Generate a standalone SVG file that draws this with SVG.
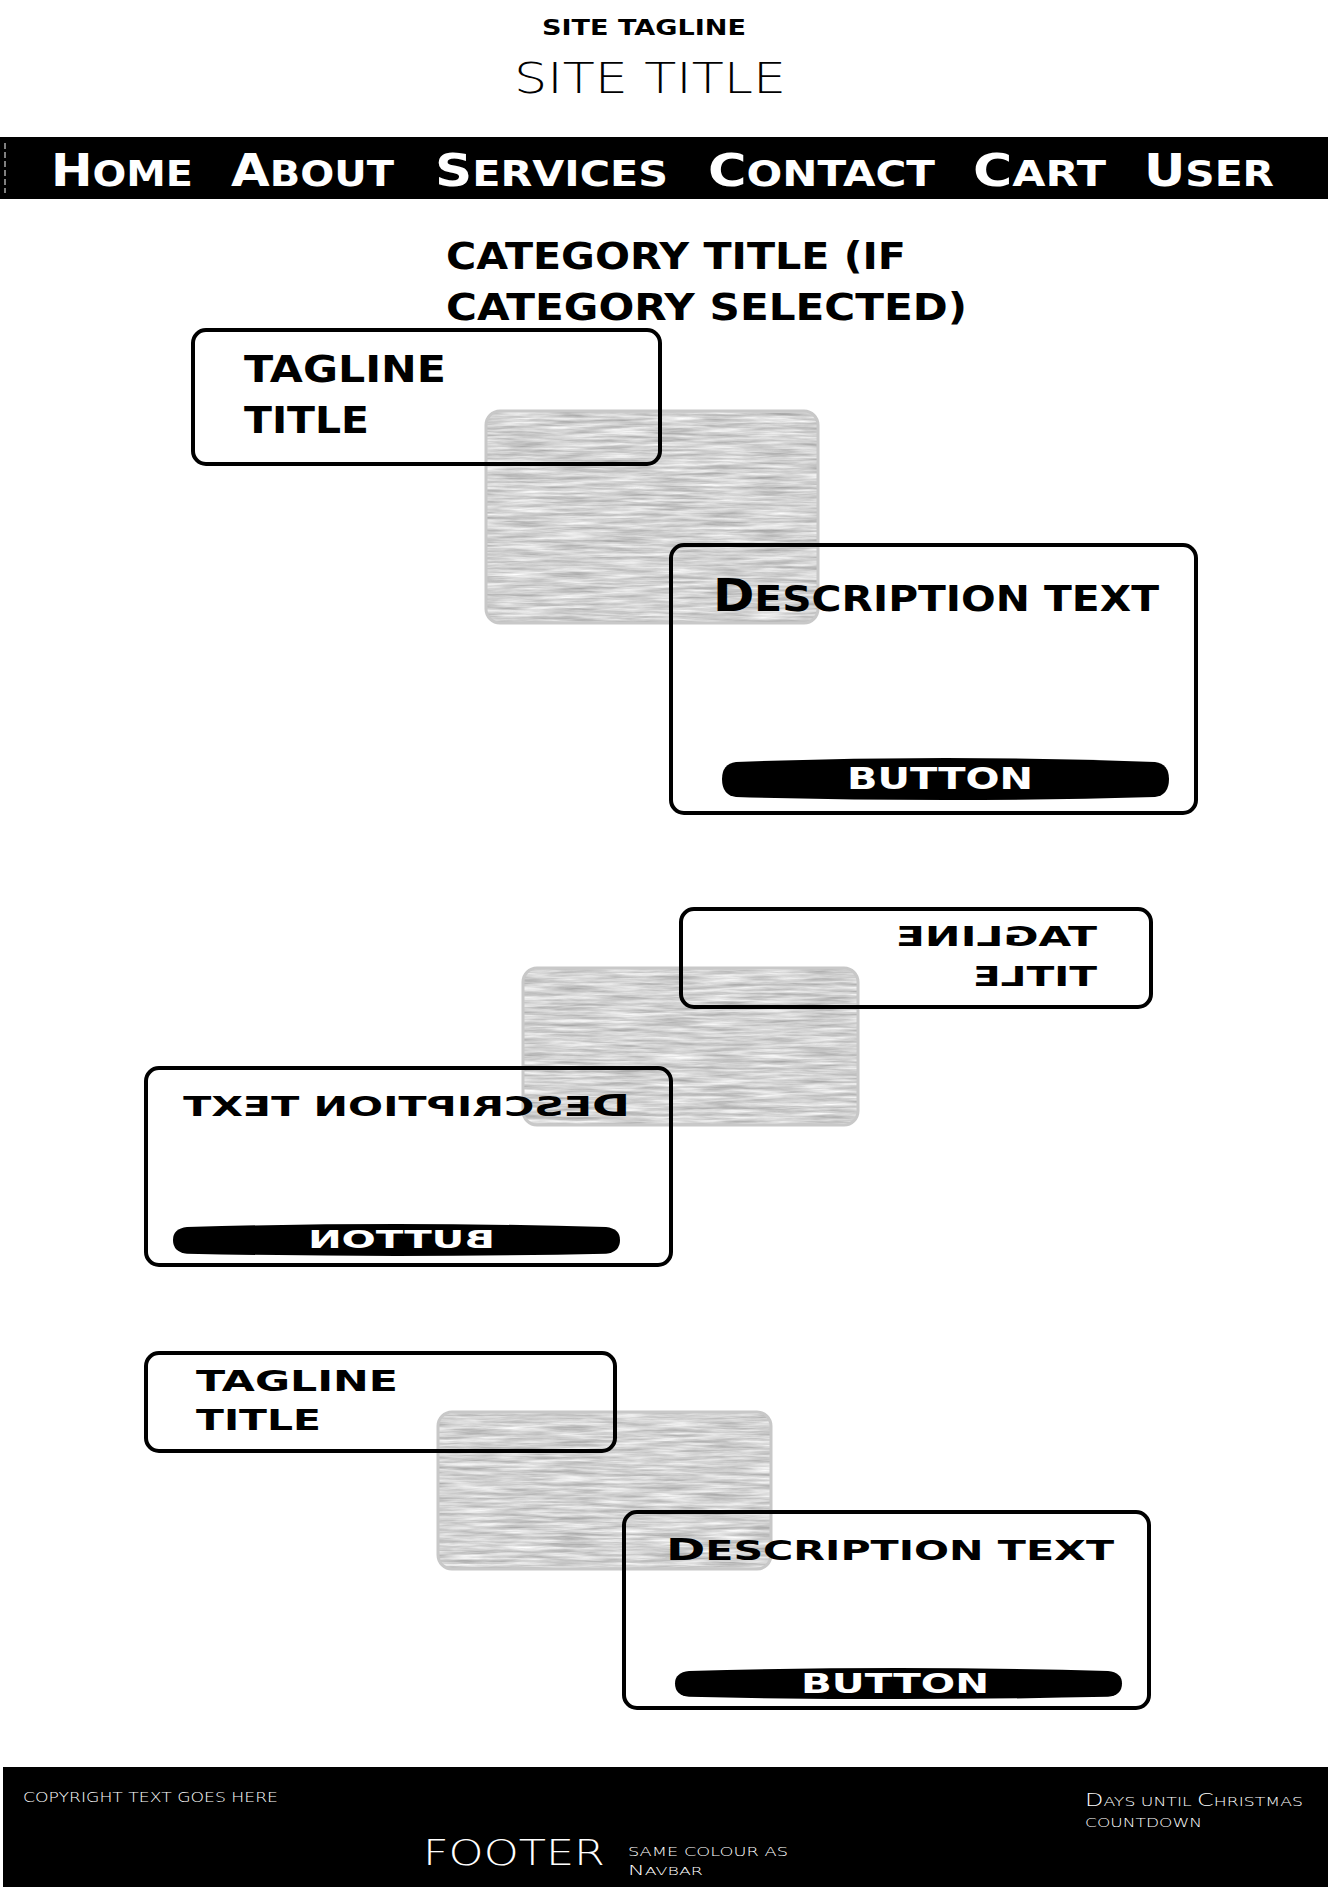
<svg xmlns="http://www.w3.org/2000/svg" width="1328" height="1887" viewBox="0 0 1328 1887">
<style>
.bold{font-family:"DejaVu Sans","Liberation Sans",sans-serif;font-weight:bold;}
.thin{font-family:"DejaVu Sans","Liberation Sans",sans-serif;font-weight:300;}
.blk{fill:#000;}
.wht{fill:#fff;}
.box{fill:none;stroke:#000;stroke-width:4;}
.imgborder{fill:none;stroke:#c8c8c8;stroke-width:3;}
</style>
<defs>
<filter id="streaks" x="0" y="0" width="1" height="1" color-interpolation-filters="sRGB">
<feTurbulence type="fractalNoise" baseFrequency="0.02 0.3" numOctaves="4" seed="7" result="n"/>
<feColorMatrix in="n" type="matrix" values="0.45 0 0 0 0.6  0.45 0 0 0 0.6  0.45 0 0 0 0.6  0 0 0 0 1" result="g"/>
<feComposite in="g" in2="SourceGraphic" operator="in"/>
</filter>
<path id="btn" d="M14 4 Q223.5 -4 433 4 Q447 6 447 21 Q447 37 433 39 Q223.5 45 14 39 Q0 37 0 21 Q0 6 14 4 Z"/>
</defs>
<rect width="1328" height="1887" fill="#fff"/>

<g id="header">
<text class="bold blk" x="542" y="35" font-size="22" textLength="204" lengthAdjust="spacingAndGlyphs">SITE TAGLINE</text>
<text class="thin blk" x="514" y="93" font-size="43" textLength="272" lengthAdjust="spacingAndGlyphs">SITE TITLE</text>
</g>

<g id="navbar">
<rect x="0" y="137" width="1328" height="62" fill="#000"/>
<line x1="5" y1="143" x2="5" y2="193" stroke="#fff" stroke-width="1" stroke-dasharray="6 3"/>
<text class="bold wht" y="186" font-size="45"><tspan x="51" textLength="142" lengthAdjust="spacingAndGlyphs">H<tspan font-size="36">OME</tspan></tspan></text>
<text class="bold wht" y="186" font-size="45"><tspan x="231" textLength="163" lengthAdjust="spacingAndGlyphs">A<tspan font-size="36">BOUT</tspan></tspan></text>
<text class="bold wht" y="186" font-size="45"><tspan x="435" textLength="233" lengthAdjust="spacingAndGlyphs">S<tspan font-size="36">ERVICES</tspan></tspan></text>
<text class="bold wht" y="186" font-size="45"><tspan x="708" textLength="227" lengthAdjust="spacingAndGlyphs">C<tspan font-size="36">ONTACT</tspan></tspan></text>
<text class="bold wht" y="186" font-size="45"><tspan x="973" textLength="133" lengthAdjust="spacingAndGlyphs">C<tspan font-size="36">ART</tspan></tspan></text>
<text class="bold wht" y="186" font-size="45"><tspan x="1144" textLength="130" lengthAdjust="spacingAndGlyphs">U<tspan font-size="36">SER</tspan></tspan></text>
</g>

<g id="category-title">
<text class="bold blk" x="446" y="269" font-size="37" textLength="460" lengthAdjust="spacingAndGlyphs">CATEGORY TITLE (IF</text>
<text class="bold blk" x="446" y="320" font-size="37" textLength="521" lengthAdjust="spacingAndGlyphs">CATEGORY SELECTED)</text>
</g>

<g id="card1">
<g id="card1-image">
<rect x="486" y="411" width="332" height="212" rx="14" fill="#ccc" filter="url(#streaks)"/>
<rect class="imgborder" x="486" y="411" width="332" height="212" rx="14"/>
</g>
<g id="card1-tagline">
<rect class="box" x="193" y="330" width="467" height="134" rx="13"/>
<text class="bold blk" x="244" y="382" font-size="37" textLength="202" lengthAdjust="spacingAndGlyphs">TAGLINE</text>
<text class="bold blk" x="244" y="433" font-size="37" textLength="125" lengthAdjust="spacingAndGlyphs">TITLE</text>
</g>
<g id="card1-description">
<rect class="box" x="671" y="545" width="525" height="268" rx="13"/>
<text class="bold blk" y="611" font-size="44"><tspan x="713" textLength="446" lengthAdjust="spacingAndGlyphs">D<tspan font-size="36">ESCRIPTION TEXT</tspan></tspan></text>
<use href="#btn" transform="translate(722,758)"/>
<text class="bold wht" x="847" y="789" font-size="30" textLength="186" lengthAdjust="spacingAndGlyphs">BUTTON</text>
</g>
</g>

<g id="card2">
<g id="card2-image">
<rect x="523" y="968" width="335" height="157" rx="14" fill="#ccc" filter="url(#streaks)"/>
<rect class="imgborder" x="523" y="968" width="335" height="157" rx="14"/>
</g>
<g id="card2-tagline">
<rect class="box" x="681" y="909" width="470" height="98" rx="13"/>
<text class="bold blk" transform="matrix(-1 0 0 1 1993 0)" x="896" y="946" font-size="27" textLength="201" lengthAdjust="spacingAndGlyphs">TAGLINE</text>
<text class="bold blk" transform="matrix(-1 0 0 1 2070 0)" x="973" y="986" font-size="27" textLength="124" lengthAdjust="spacingAndGlyphs">TITLE</text>
</g>
<g id="card2-description">
<rect class="box" x="146" y="1068" width="525" height="197" rx="13"/>
<text class="bold blk" transform="matrix(-1 0 0 1 813 0)" y="1116" font-size="30"><tspan x="183" textLength="447" lengthAdjust="spacingAndGlyphs">D<tspan font-size="27">ESCRIPTION TEXT</tspan></tspan></text>
<use href="#btn" transform="translate(173,1224) scale(1,0.76)"/>
<text class="bold wht" transform="matrix(-1 0 0 1 803 0)" x="308" y="1248" font-size="25" textLength="187" lengthAdjust="spacingAndGlyphs">BUTTON</text>
</g>
</g>

<g id="card3">
<g id="card3-image">
<rect x="438" y="1412" width="333" height="157" rx="14" fill="#ccc" filter="url(#streaks)"/>
<rect class="imgborder" x="438" y="1412" width="333" height="157" rx="14"/>
</g>
<g id="card3-tagline">
<rect class="box" x="146" y="1353" width="469" height="98" rx="13"/>
<text class="bold blk" x="196" y="1391" font-size="29" textLength="202" lengthAdjust="spacingAndGlyphs">TAGLINE</text>
<text class="bold blk" x="196" y="1430" font-size="29" textLength="125" lengthAdjust="spacingAndGlyphs">TITLE</text>
</g>
<g id="card3-description">
<rect class="box" x="624" y="1512" width="525" height="196" rx="13"/>
<text class="bold blk" y="1560" font-size="31"><tspan x="666" textLength="448" lengthAdjust="spacingAndGlyphs">D<tspan font-size="27">ESCRIPTION TEXT</tspan></tspan></text>
<use href="#btn" transform="translate(675,1668) scale(1,0.74)"/>
<text class="bold wht" x="801" y="1693" font-size="27" textLength="188" lengthAdjust="spacingAndGlyphs">BUTTON</text>
</g>
</g>

<g id="footer">
<rect x="3" y="1767" width="1325" height="120" fill="#000"/>
<text class="thin wht" x="23" y="1802" font-size="14" textLength="255" lengthAdjust="spacingAndGlyphs">COPYRIGHT TEXT GOES HERE</text>
<text class="thin wht" x="423" y="1865" font-size="35" textLength="182" lengthAdjust="spacingAndGlyphs">FOOTER</text>
<text class="thin wht" x="628" y="1856" font-size="13" textLength="160" lengthAdjust="spacingAndGlyphs">SAME COLOUR AS</text>
<text class="thin wht" y="1875" font-size="14"><tspan x="628" textLength="75" lengthAdjust="spacingAndGlyphs">N<tspan font-size="11">AVBAR</tspan></tspan></text>
<text class="thin wht" y="1806" font-size="18"><tspan x="1085" textLength="218" lengthAdjust="spacingAndGlyphs">D<tspan font-size="13">AYS UNTIL </tspan>C<tspan font-size="13">HRISTMAS</tspan></tspan></text>
<text class="thin wht" x="1085" y="1827" font-size="13" textLength="117" lengthAdjust="spacingAndGlyphs">COUNTDOWN</text>
</g>

<g id="connectors"/>
</svg>
